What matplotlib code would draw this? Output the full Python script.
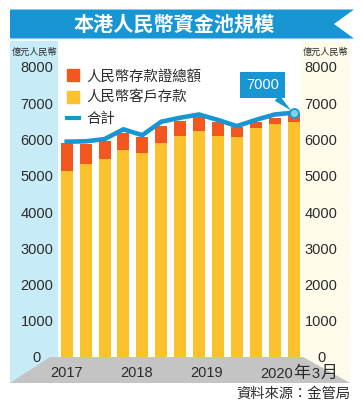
import matplotlib
matplotlib.use("Agg")
import matplotlib.pyplot as plt
from matplotlib.patches import Polygon, Rectangle
from matplotlib.lines import Line2D
import matplotlib.transforms as mtransforms
import numpy as np

plt.rcParams['font.family'] = ['Liberation Sans', 'Noto Sans CJK TC', 'DejaVu Sans']

# ---- data (quarterly, 2017 Q1 .. 2020 Q1), 億元人民幣 ----
quarters = ['2017Q1', '2017Q2', '2017Q3', '2017Q4', '2018Q1', '2018Q2', '2018Q3',
            '2018Q4', '2019Q1', '2019Q2', '2019Q3', '2019Q4', '2020Q1']
customer_deposits = [5140, 5320, 5450, 5700, 5620, 5900, 6110, 6230, 6110, 6070, 6330, 6430, 6480]
certificates = [750, 560, 500, 480, 440, 460, 410, 400, 370, 270, 140, 160, 210]
total = [5940, 5950, 6010, 6280, 6120, 6490, 6600, 6690, 6540, 6370, 6540, 6690, 6740]
yticks = [0, 1000, 2000, 3000, 4000, 5000, 6000, 7000, 8000]
year_labels = ['2017', '2018', '2019', '2020年3月']
year_pos = [0, 3.72, 7.42, 10.23]
last_label = '7000'

title = '本港人民幣資金池規模'
unit = '億元人民幣'
source = '資料來源：金管局'
legend_labels = ['人民幣存款證總額', '人民幣客戶存款', '合計']

RED = '#f2571f'
YEL = '#fcc22e'
BLUE = '#1896d3'
LBLUE = '#c8ebf8'
CREAM = '#fefbea'
GRAY = '#c4c4c4'
TXT = '#2b2b2b'

W, H = 363, 404
fig = plt.figure(figsize=(W / 100, H / 100), dpi=100)

# background decoration axes in pixel coordinates
bg = fig.add_axes([0, 0, 1, 1], zorder=0)
bg.set_xlim(0, W)
bg.set_ylim(H, 0)
bg.axis('off')

bg.add_patch(Polygon([(10, 9.5), (354, 9.5), (334, 24), (354, 38.5), (10, 38.5)],
                     closed=True, fc=BLUE, ec='none'))
bg.text(174, 24, title, ha='center', va='center', color='white', fontsize=14.5,
        fontweight='bold', family=['Noto Sans CJK TC'])

bg.add_patch(Rectangle((10, 41), 47.5, 342, fc=LBLUE, ec='none'))
bg.add_patch(Rectangle((301, 41), 49, 342, fc=CREAM, ec='none'))
bg.add_patch(Polygon([(50, 357), (303, 357), (350, 383), (10, 383)],
                     closed=True, fc=GRAY, ec='none'))

bg.text(12, 52, unit, ha='left', va='center', fontsize=6.6, color=TXT,
        family=['Noto Sans CJK TC'])
bg.text(348, 52, unit, ha='right', va='center', fontsize=6.6, color=TXT,
        family=['Noto Sans CJK TC'])
bg.text(350, 394, source, ha='right', va='center', fontsize=10.3, color=TXT,
        family=['Noto Sans CJK TC'])

# data axes
x0_px, x1_px = 57, 301
y0_px, y1_px = 357, 67
spacing = 18.9
c0 = 66.7
xlo = (x0_px - c0) / spacing
xhi = (x1_px - c0) / spacing
ax = fig.add_axes([x0_px / W, 1 - y0_px / H, (x1_px - x0_px) / W, (y0_px - y1_px) / H],
                  zorder=2)
ax.set_facecolor('none')
ax.set_xlim(xlo, xhi)
ax.set_ylim(0, 8000)
for s in ax.spines.values():
    s.set_visible(False)

x = np.arange(len(quarters))
bw = 12 / spacing
ax.bar(x, customer_deposits, width=bw, color=YEL, zorder=2)
ax.bar(x, certificates, width=bw, bottom=customer_deposits, color=RED, zorder=2)
ax.plot(x, total, color=BLUE, lw=3.3, zorder=3, solid_joinstyle='miter')
ax.plot([x[-1]], [total[-1]], marker='o', ms=6.5, mfc='#7fd3f2', mec=BLUE, mew=1.3,
        zorder=4, ls='none')

ax.set_xticks([])
ax.set_yticks(yticks)
ax.set_yticklabels([str(v) for v in yticks])
ax.tick_params(axis='y', length=0, labelsize=10.5, labelcolor=TXT, pad=14.5,
               labelright=True, labelleft=True)
for tick in ax.yaxis.get_major_ticks():
    tick.label1.set_ha('center')
    tick.label2.set_ha('center')

trans = mtransforms.blended_transform_factory(ax.transData, ax.transAxes)
for lbl, pos in zip(year_labels[:-1], year_pos[:-1]):
    ax.text(pos, -0.054, lbl, transform=trans, ha='center', va='center',
            fontsize=10.5, color=TXT)

# last label: digits in Liberation Sans, CJK characters slightly larger, chained left to right
last = year_labels[-1]
base_y = -0.0715
prev = ax.text(year_pos[-1], base_y, last[:4], transform=trans, ha='left', va='baseline',
               fontsize=10.5, color=TXT)
for txt, fs, gap in [(last[4], 12.3, 0.3), (last[5], 10.5, 0.8), (last[6], 12.3, 1.0)]:
    prev = ax.annotate(txt, xy=(1, base_y), xycoords=(prev, ax.transAxes),
                       xytext=(gap, 0), textcoords='offset points',
                       ha='left', va='baseline', fontsize=fs, color=TXT)

# callout
ax.annotate(last_label, xy=(x[-1], total[-1]), xytext=(-22.5, 20),
            textcoords='offset points', ha='center', va='center', color='white',
            fontsize=10.5, zorder=5,
            bbox=dict(boxstyle='square,pad=0.42', fc=BLUE, ec='none'),
            arrowprops=dict(arrowstyle='wedge,tail_width=0.5,shrink_factor=0.5',
                            fc=BLUE, ec='none', relpos=(0.72, 0.05),
                            shrinkA=0, shrinkB=2))

handles = [Line2D([], [], marker='s', ls='none', color=RED, markersize=8.5),
           Line2D([], [], marker='s', ls='none', color=YEL, markersize=8.5),
           Line2D([], [], color=BLUE, lw=3)]
leg = ax.legend(handles, legend_labels, loc='upper left', bbox_to_anchor=(0.042, 0.992),
                frameon=False, handlelength=0.8, handletextpad=0.55, labelspacing=0.5,
                borderpad=0, borderaxespad=0,
                prop={'family': ['Noto Sans CJK TC'], 'size': 10.4})
for t in leg.get_texts():
    t.set_color(TXT)

fig.savefig('out.png', dpi=100)
